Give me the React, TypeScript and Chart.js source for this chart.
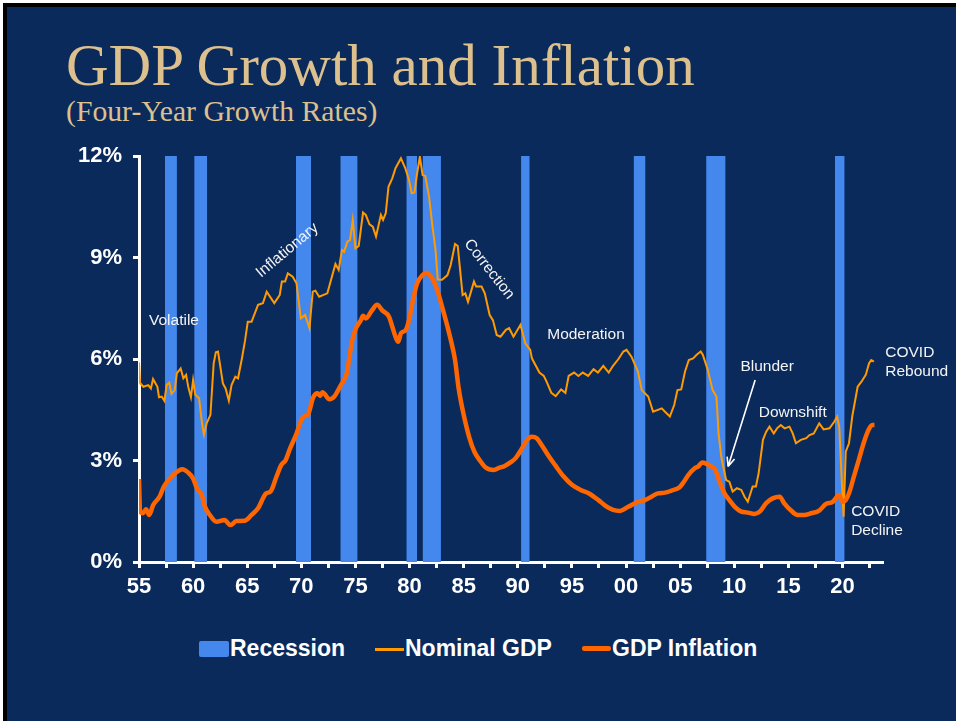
import React, { useEffect, useRef } from 'react';
import { Chart, registerables } from 'chart.js';

Chart.register(...registerables);

// ---------- DATA ----------
const recessions: [number, number][] = [
  [1957.4, 1958.5], [1960.1, 1961.3], [1969.5, 1970.9], [1973.6, 1975.2],
  [1979.7, 1980.7], [1981.2, 1982.9], [1990.3, 1991.1], [2000.7, 2001.8],
  [2007.4, 2009.2], [2019.3, 2020.2],
];

const nominalGdp: [number, number][] = [
  [1955.0, 5.9], [1955.1, 5.29], [1955.4, 5.18], [1955.85, 5.23], [1956.1, 5.13], [1956.3, 5.41],
  [1956.7, 5.18], [1956.85, 4.87], [1957.1, 4.89], [1957.35, 4.76], [1957.55, 5.23], [1957.8, 5.3],
  [1958.0, 4.97], [1958.3, 5.08], [1958.5, 5.58], [1958.85, 5.72], [1959.1, 5.43], [1959.35, 5.53],
  [1959.55, 5.18], [1959.8, 4.87], [1960.0, 5.38], [1960.2, 4.94], [1960.55, 4.84], [1960.8, 4.15],
  [1961.0, 3.77], [1961.25, 4.1], [1961.6, 4.35], [1961.9, 5.87], [1962.1, 6.2], [1962.3, 6.22],
  [1962.75, 5.28], [1963.0, 5.13], [1963.3, 4.77], [1963.55, 5.23], [1963.9, 5.48], [1964.15, 5.43],
  [1964.5, 6.0], [1964.8, 6.55], [1965.05, 7.1], [1965.4, 7.1], [1966.0, 7.6], [1966.45, 7.65],
  [1966.8, 7.99], [1967.5, 7.65], [1968.0, 7.89], [1968.2, 8.29], [1968.5, 8.29], [1968.75, 8.53],
  [1969.2, 8.43], [1969.55, 8.24], [1969.95, 7.2], [1970.35, 7.3], [1970.75, 6.91], [1971.05, 7.99],
  [1971.3, 8.02], [1971.65, 7.84], [1972.4, 7.94], [1973.15, 8.81], [1973.45, 8.63], [1973.75, 9.22],
  [1973.95, 9.17], [1974.25, 9.47], [1974.5, 9.52], [1974.75, 10.11], [1975.0, 9.27], [1975.3, 9.34],
  [1975.7, 10.33], [1975.95, 10.26], [1976.3, 9.98], [1976.6, 9.91], [1976.9, 9.62], [1977.35, 10.26],
  [1977.55, 10.11], [1977.8, 10.31], [1978.05, 11.09], [1978.4, 11.34], [1978.7, 11.64], [1979.2, 11.93],
  [1979.6, 11.64], [1979.95, 11.29], [1980.2, 10.9], [1980.45, 10.92], [1980.7, 11.49], [1980.95, 11.98],
  [1981.2, 11.44], [1981.45, 11.41], [1981.8, 10.8], [1982.1, 9.96], [1982.4, 9.22], [1982.6, 8.35],
  [1983.0, 8.34], [1983.5, 8.48], [1983.8, 8.78], [1984.2, 9.4], [1984.45, 9.34], [1984.7, 8.53],
  [1984.9, 7.89], [1985.15, 7.94], [1985.4, 7.69], [1985.95, 8.29], [1986.15, 8.14], [1986.65, 8.14],
  [1986.95, 7.94], [1987.4, 7.3], [1987.7, 7.15], [1988.05, 6.71], [1988.4, 6.66], [1988.9, 6.86],
  [1989.2, 6.91], [1989.6, 6.66], [1990.25, 7.01], [1990.7, 6.46], [1991.15, 6.27], [1991.3, 6.02],
  [1992.0, 5.6], [1992.4, 5.5], [1992.7, 5.3], [1993.1, 5.0], [1993.5, 4.9], [1994.0, 5.1],
  [1994.4, 5.0], [1994.7, 5.5], [1995.2, 5.6], [1995.6, 5.5], [1996.0, 5.6], [1996.5, 5.5],
  [1997.0, 5.7], [1997.4, 5.6], [1997.9, 5.8], [1998.4, 5.6], [1998.8, 5.8], [1999.3, 6.0],
  [1999.75, 6.22], [2000.05, 6.27], [2000.5, 6.07], [2001.1, 5.63], [2001.45, 5.08], [2002.05, 4.89],
  [2002.5, 4.44], [2003.3, 4.54], [2003.6, 4.44], [2004.05, 4.3], [2004.45, 4.64], [2004.75, 5.08],
  [2005.1, 5.1], [2005.45, 5.63], [2005.8, 5.97], [2006.2, 6.02], [2006.5, 6.12], [2006.9, 6.22],
  [2007.1, 6.12], [2007.55, 5.68], [2008.0, 5.08], [2008.35, 4.89], [2008.55, 3.8], [2008.8, 3.11],
  [2009.05, 2.72], [2009.25, 2.42], [2009.55, 2.37], [2009.85, 2.08], [2010.25, 2.18], [2010.65, 2.13],
  [2010.95, 1.93], [2011.25, 1.78], [2011.7, 2.23], [2012.0, 2.23], [2012.25, 2.62], [2012.65, 3.61],
  [2012.95, 3.85], [2013.25, 4.0], [2013.65, 3.8], [2013.95, 3.95], [2014.3, 4.05], [2014.65, 3.95],
  [2015.1, 4.0], [2015.4, 3.8], [2015.7, 3.51], [2016.15, 3.61], [2016.65, 3.66], [2016.95, 3.75],
  [2017.35, 3.8], [2017.85, 4.1], [2018.25, 3.92], [2018.8, 3.95], [2019.25, 4.15], [2019.5, 4.3],
  [2019.7, 4.0], [2019.9, 2.62], [2020.1, 1.34], [2020.3, 3.26], [2020.6, 3.51], [2020.9, 4.3],
  [2021.4, 5.18], [2021.75, 5.33], [2022.15, 5.53], [2022.45, 5.87], [2022.65, 5.97], [2022.9, 5.92],
];

const gdpInflation: [number, number][] = [
  [1955.0, 2.45], [1955.1, 1.5], [1955.35, 1.44], [1955.65, 1.56], [1955.95, 1.39], [1956.3, 1.68],
  [1956.9, 1.93], [1957.3, 2.23], [1957.85, 2.47], [1958.4, 2.64], [1959.0, 2.74], [1959.55, 2.64],
  [1960.0, 2.47], [1960.35, 2.18], [1960.8, 1.98], [1961.1, 1.63], [1961.55, 1.39], [1962.15, 1.19],
  [1962.9, 1.24], [1963.45, 1.09], [1964.0, 1.21], [1964.75, 1.22], [1965.4, 1.39], [1966.0, 1.59],
  [1966.75, 2.03], [1967.15, 2.08], [1967.7, 2.52], [1968.15, 2.87], [1968.55, 3.01], [1968.9, 3.31],
  [1969.5, 3.75], [1970.15, 4.28], [1970.6, 4.35], [1971.1, 4.87], [1971.5, 4.99], [1971.75, 4.91],
  [1971.95, 5.02], [1972.6, 4.81], [1973.05, 4.89], [1973.65, 5.23], [1974.2, 5.58], [1974.4, 5.97],
  [1974.7, 6.55], [1975.05, 6.91], [1975.5, 7.15], [1975.7, 7.28], [1975.95, 7.2], [1976.55, 7.45],
  [1977.0, 7.6], [1977.5, 7.43], [1978.1, 7.25], [1978.4, 6.96], [1978.7, 6.66], [1978.95, 6.51],
  [1979.2, 6.76], [1979.65, 6.86], [1979.95, 7.15], [1980.25, 7.65], [1980.7, 8.24], [1981.2, 8.48],
  [1981.55, 8.55], [1981.95, 8.45], [1982.45, 8.14], [1983.0, 7.55], [1983.5, 6.96], [1983.95, 6.37],
  [1984.2, 5.97], [1984.55, 5.1], [1985.0, 4.35], [1985.5, 3.7], [1986.0, 3.25], [1986.5, 3.0],
  [1987.0, 2.8], [1987.8, 2.72], [1988.25, 2.78], [1988.8, 2.84], [1989.35, 2.95], [1989.8, 3.07],
  [1990.3, 3.31], [1990.8, 3.58], [1991.3, 3.7], [1991.75, 3.66], [1992.2, 3.46], [1992.85, 3.13],
  [1993.5, 2.84], [1994.2, 2.54], [1995.0, 2.28], [1995.8, 2.13], [1996.5, 2.04], [1997.45, 1.83],
  [1998.1, 1.66], [1998.8, 1.54], [1999.45, 1.51], [2000.2, 1.63], [2001.1, 1.78], [2001.75, 1.83],
  [2002.35, 1.93], [2002.95, 2.03], [2003.6, 2.05], [2004.2, 2.11], [2004.95, 2.21], [2005.3, 2.35],
  [2005.75, 2.57], [2006.35, 2.77], [2006.65, 2.82], [2007.05, 2.94], [2007.45, 2.9], [2007.9, 2.82],
  [2008.25, 2.72], [2008.65, 2.37], [2009.1, 2.03], [2009.55, 1.83], [2010.05, 1.63], [2010.65, 1.49],
  [2011.25, 1.46], [2011.85, 1.42], [2012.35, 1.49], [2012.95, 1.74], [2013.55, 1.88], [2014.2, 1.93],
  [2014.6, 1.74], [2015.25, 1.52], [2015.85, 1.39], [2016.45, 1.39], [2017.1, 1.44], [2017.85, 1.52],
  [2018.45, 1.71], [2019.1, 1.78], [2019.7, 1.98], [2020.0, 1.78], [2020.3, 1.83], [2020.6, 2.03],
  [2021.05, 2.52], [2021.5, 3.01], [2021.95, 3.51], [2022.4, 3.9], [2022.75, 4.05], [2022.95, 4.05],
];

const xRange = [1955, 2023.65];
const yRange = [0, 12];
const yStep = 3;
const xStep = 2.5;

const notes = [
  { lines: ['Volatile'], x: 1958.23, y: 7.12, angle: 0, align: 'center' },
  { lines: ['Inflationary'], x: 1968.7, y: 9.21, angle: -40, align: 'center' },
  { lines: ['Correction'], x: 1987.35, y: 8.65, angle: 52, align: 'center' },
  { lines: ['Moderation'], x: 1996.3, y: 6.71, angle: 0, align: 'center' },
  { lines: ['Blunder'], x: 2013.04, y: 5.76, angle: 0, align: 'center' },
  { lines: ['Downshift'], x: 2015.4, y: 4.4, angle: 0, align: 'center' },
  { lines: ['COVID', 'Rebound'], x: 2023.95, y: 6.18, angle: 0, align: 'left' },
  { lines: ['COVID', 'Decline'], x: 2020.8, y: 1.48, angle: 0, align: 'left' },
];
const arrowFrom = [2011.93, 5.38];
const arrowTo = [2009.43, 2.82];

// ---------- STYLE ----------
const NAVY = '#0b2a5c';
const RECESSION = '#4488ee';
const NOMINAL = '#ff9b00';
const INFLATION = '#ff6600';
const TITLE = '#dcc08e';
const SANS = '"Liberation Sans", Arial, Helvetica, sans-serif';
const SERIF = '"Liberation Serif", "Times New Roman", Times, serif';

const notesPlugin = {
  id: 'notes',
  afterDatasetsDraw(chart: any) {
    const { ctx } = chart;
    const xs = chart.scales.x;
    const ys = chart.scales.y;
    ctx.save();
    ctx.fillStyle = '#f4f4f4';
    ctx.font = `15.5px ${SANS}`;
    for (const n of notes) {
      const px = xs.getPixelForValue(n.x);
      const py = ys.getPixelForValue(n.y);
      ctx.save();
      ctx.translate(px, py);
      ctx.rotate((n.angle * Math.PI) / 180);
      ctx.textAlign = n.align;
      ctx.textBaseline = 'middle';
      n.lines.forEach((t, i) => ctx.fillText(t, 0, i * 19));
      ctx.restore();
    }
    const x1 = xs.getPixelForValue(arrowFrom[0]);
    const y1 = ys.getPixelForValue(arrowFrom[1]);
    const x2 = xs.getPixelForValue(arrowTo[0]);
    const y2 = ys.getPixelForValue(arrowTo[1]);
    ctx.strokeStyle = '#ffffff';
    ctx.lineWidth = 1.6;
    ctx.beginPath();
    ctx.moveTo(x1, y1);
    ctx.lineTo(x2, y2);
    const a = Math.atan2(y2 - y1, x2 - x1);
    const L = 10;
    ctx.moveTo(x2, y2);
    ctx.lineTo(x2 - L * Math.cos(a - 0.4), y2 - L * Math.sin(a - 0.4));
    ctx.moveTo(x2, y2);
    ctx.lineTo(x2 - L * Math.cos(a + 0.4), y2 - L * Math.sin(a + 0.4));
    ctx.stroke();
    ctx.restore();
  },
};

export default function App() {
  const ref = useRef<HTMLCanvasElement | null>(null);

  useEffect(() => {
    if (!ref.current) return;
    const recessionPoints: any[] = [];
    recessions.forEach(([s, e]) => {
      recessionPoints.push({ x: s, y: yRange[1] }, { x: e, y: yRange[1] }, { x: e + 0.01, y: null });
    });
    const chart = new Chart(ref.current, {
      type: 'line',
      data: {
        datasets: [
          {
            label: 'GDP Inflation',
            data: gdpInflation.map(([x, y]) => ({ x, y })),
            borderColor: INFLATION,
            borderWidth: 4.5,
            pointRadius: 0,
            cubicInterpolationMode: 'monotone',
            fill: false,
            order: 1,
          },
          {
            label: 'Nominal GDP',
            data: nominalGdp.map(([x, y]) => ({ x, y })),
            borderColor: NOMINAL,
            borderWidth: 2,
            pointRadius: 0,
            tension: 0,
            fill: false,
            order: 2,
          },
          {
            label: 'Recession',
            data: recessionPoints,
            borderWidth: 0,
            borderColor: 'rgba(0,0,0,0)',
            backgroundColor: RECESSION,
            pointRadius: 0,
            spanGaps: false,
            fill: 'origin',
            order: 3,
          },
        ],
      },
      options: {
        responsive: false,
        animation: false,
        events: [],
        layout: { padding: { left: 0, right: 74, top: 26, bottom: 0 } },
        plugins: { legend: { display: false }, tooltip: { enabled: false } },
        scales: {
          x: {
            type: 'linear',
            min: xRange[0],
            max: xRange[1],
            afterFit: (s: any) => { s.height = 68; },
            border: { display: true, color: '#ffffff', width: 3 },
            grid: { drawOnChartArea: false, drawTicks: true, tickLength: 6, color: '#ffffff', lineWidth: 3 },
            ticks: {
              stepSize: xStep,
              autoSkip: false,
              includeBounds: false,
              maxRotation: 0,
              padding: 6,
              color: '#ffffff',
              font: { family: SANS, size: 22, weight: 'bold' },
              callback: (v: any) => {
                const n = Number(v);
                if (Math.abs(n % 5) > 1e-6) return '';
                return String(Math.round(n) % 100).padStart(2, '0');
              },
            },
          },
          y: {
            min: yRange[0],
            max: yRange[1],
            afterFit: (s: any) => { s.width = 139; },
            border: { display: true, color: '#ffffff', width: 3 },
            grid: { drawOnChartArea: false, drawTicks: true, tickLength: 6, color: '#ffffff', lineWidth: 3 },
            ticks: {
              stepSize: yStep,
              padding: 11,
              color: '#ffffff',
              font: { family: SANS, size: 22, weight: 'bold' },
              callback: (v: any) => `${v}%`,
            },
          },
        },
      },
      plugins: [notesPlugin],
    } as any);
    return () => chart.destroy();
  }, []);

  const legendText: React.CSSProperties = {
    position: 'absolute',
    top: 637,
    fontFamily: SANS,
    fontWeight: 'bold',
    fontSize: 23,
    lineHeight: '23px',
    color: '#ffffff',
    whiteSpace: 'nowrap',
  };

  return (
    <div style={{ position: 'absolute', left: 0, top: 0, width: 956, height: 721, background: '#ffffff', overflow: 'hidden' }}>
      <div style={{ position: 'absolute', left: 3, top: 3, right: 0, bottom: 0, background: '#000000' }} />
      <div style={{ position: 'absolute', left: 7, top: 7, right: 0, bottom: 0, background: NAVY }} />
      <div style={{ position: 'absolute', left: 66, top: 36, fontFamily: SERIF, fontSize: 59, lineHeight: '59px', color: TITLE, whiteSpace: 'nowrap' }}>
        GDP Growth and Inflation
      </div>
      <div style={{ position: 'absolute', left: 66, top: 97, fontFamily: SERIF, fontSize: 29.7, lineHeight: '29.7px', color: TITLE, whiteSpace: 'nowrap' }}>
        (Four-Year Growth Rates)
      </div>
      <canvas ref={ref} width={956} height={500} style={{ position: 'absolute', left: 0, top: 130, width: 956, height: 500 }} />
      <div style={{ position: 'absolute', left: 199, top: 641, width: 30, height: 16, background: RECESSION, borderRadius: 2 }} />
      <div style={{ ...legendText, left: 230 }}>Recession</div>
      <div style={{ position: 'absolute', left: 375, top: 648, width: 29, height: 3, background: NOMINAL }} />
      <div style={{ ...legendText, left: 405 }}>Nominal GDP</div>
      <div style={{ position: 'absolute', left: 582, top: 646, width: 29, height: 5, background: INFLATION, borderRadius: 2 }} />
      <div style={{ ...legendText, left: 612 }}>GDP Inflation</div>
    </div>
  );
}
